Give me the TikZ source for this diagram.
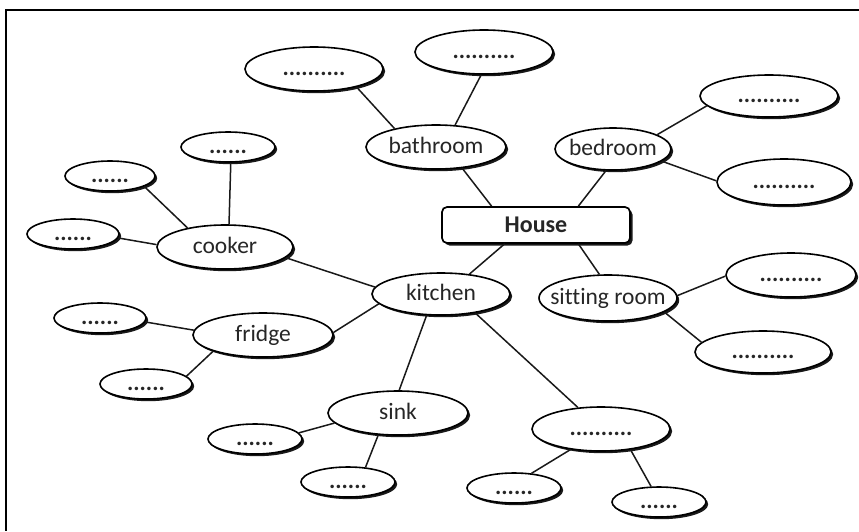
\documentclass[tikz,border=0pt]{standalone}
\usepackage{fontspec}
\setmainfont{Carlito}[Ligatures=NoCommon]
\usetikzlibrary{shapes.geometric,shadows}
\newcommand{\zw}[1]{\makebox[0pt]{#1}}
\tikzset{
  bub/.style={ellipse, draw, line width=1.6pt, fill=white, inner sep=0pt,
    text=black!85, text height=16pt, text depth=3pt,
    font=\fontsize{23.5}{23.5}\selectfont,
    drop shadow={shadow xshift=2.2pt, shadow yshift=-2.2pt, fill=black, opacity=0.9}},
  hbox/.style={rectangle, rounded corners=5pt, draw, line width=1.7pt, fill=white,
    inner sep=0pt, minimum width=188, minimum height=36, text=black!85,
    font=\fontsize{24}{24}\selectfont\bfseries,
    drop shadow={shadow xshift=2.5pt, shadow yshift=-2.5pt, fill=black, opacity=0.9}},
  conn/.style={line width=1.5pt, black!90},
}
\def\dl{\textbf{..........}}
\def\ds{\textbf{......}}
\begin{document}
\begin{tikzpicture}[x=1pt,y=-1pt]
\useasboundingbox[fill=white] (0,0) rectangle (859,531);
\draw[line width=1.8pt] (859,10) -- (6,10) -- (6,531);

\node[hbox] (house) at (536,225) {House};

\node[bub, minimum width=140, minimum height=44] (bath) at (436,147) {\zw{bathroom}};
\node[bub, minimum width=138, minimum height=44] (bath1) at (314,69) {\zw{\dl}};
\node[bub, minimum width=138, minimum height=44] (bath2) at (484,52) {\zw{\dl}};

\node[bub, minimum width=116, minimum height=42] (bed) at (613,149) {\zw{bedroom}};
\node[bub, minimum width=138, minimum height=42] (bed1) at (769,96) {\zw{\dl}};
\node[bub, minimum width=134, minimum height=46] (bed2) at (784,182) {\zw{\dl}};

\node[bub, minimum width=138, minimum height=46] (sit) at (608,298) {\zw{sitting room}};
\node[bub, minimum width=130, minimum height=44] (sit1) at (791,275) {\zw{\dl}};
\node[bub, minimum width=136, minimum height=42] (sit2) at (763,352) {\zw{\dl}};

\node[bub, minimum width=138, minimum height=42] (kit) at (441,294) {\zw{kitchen}};

\node[bub, minimum width=136, minimum height=44] (cook) at (225,247) {\zw{cooker}};
\node[bub, minimum width=94, minimum height=30] (cook1) at (228,147) {\zw{\ds}};
\node[bub, minimum width=90, minimum height=30] (cook2) at (110,176) {\zw{\ds}};
\node[bub, minimum width=92, minimum height=30] (cook3) at (73,234) {\zw{\ds}};

\node[bub, minimum width=140, minimum height=44] (fri) at (263,335) {\zw{fridge}};
\node[bub, minimum width=92, minimum height=30] (fri1) at (100,318) {\zw{\ds}};
\node[bub, minimum width=92, minimum height=30] (fri2) at (146,384) {\zw{\ds}};

\node[bub, minimum width=140, minimum height=44] (sink) at (398,413) {\zw{sink}};
\node[bub, minimum width=94, minimum height=30] (sink1) at (255,439) {\zw{\ds}};
\node[bub, minimum width=94, minimum height=30] (sink2) at (348,482) {\zw{\ds}};

\node[bub, minimum width=138, minimum height=44] (kr) at (601,429) {\zw{\dl}};
\node[bub, minimum width=94, minimum height=30] (kr1) at (514,488) {\zw{\ds}};
\node[bub, minimum width=94, minimum height=30] (kr2) at (659,502) {\zw{\ds}};

\draw[conn] (house.157) -- (bath.-39);
\draw[conn] (bath.156) -- (bath1.-23);
\draw[conn] (bath.49) -- (bath2.-97);
\draw[conn] (house.24) -- (bed.-108);
\draw[conn] (bed.18) -- (bed1.189);
\draw[conn] (bed.-14) -- (bed2.179);
\draw[conn] (house.-24) -- (sit.110);
\draw[conn] (sit.2) -- (sit1.181);
\draw[conn] (sit.-14) -- (sit2.171);
\draw[conn] (house.211) -- (kit.35);
\draw[conn] (kit.174) -- (cook.-10);
\draw[conn] (cook.80) -- (cook1.-80);
\draw[conn] (cook.153) -- (cook2.-17);
\draw[conn] (cook.178) -- (cook3.-5);
\draw[conn] (kit.189) -- (fri.2);
\draw[conn] (fri.176) -- (fri1.-5);
\draw[conn] (fri.198) -- (fri2.11);
\draw[conn] (kit.236) -- (sink.87);
\draw[conn] (sink.189) -- (sink1.8);
\draw[conn] (sink.228) -- (sink2.40);
\draw[conn] (kit.-29) -- (kr.137);
\draw[conn] (kr.214) -- (kr1.40);
\draw[conn] (kr.-35) -- (kr2.117);
\end{tikzpicture}
\end{document}
